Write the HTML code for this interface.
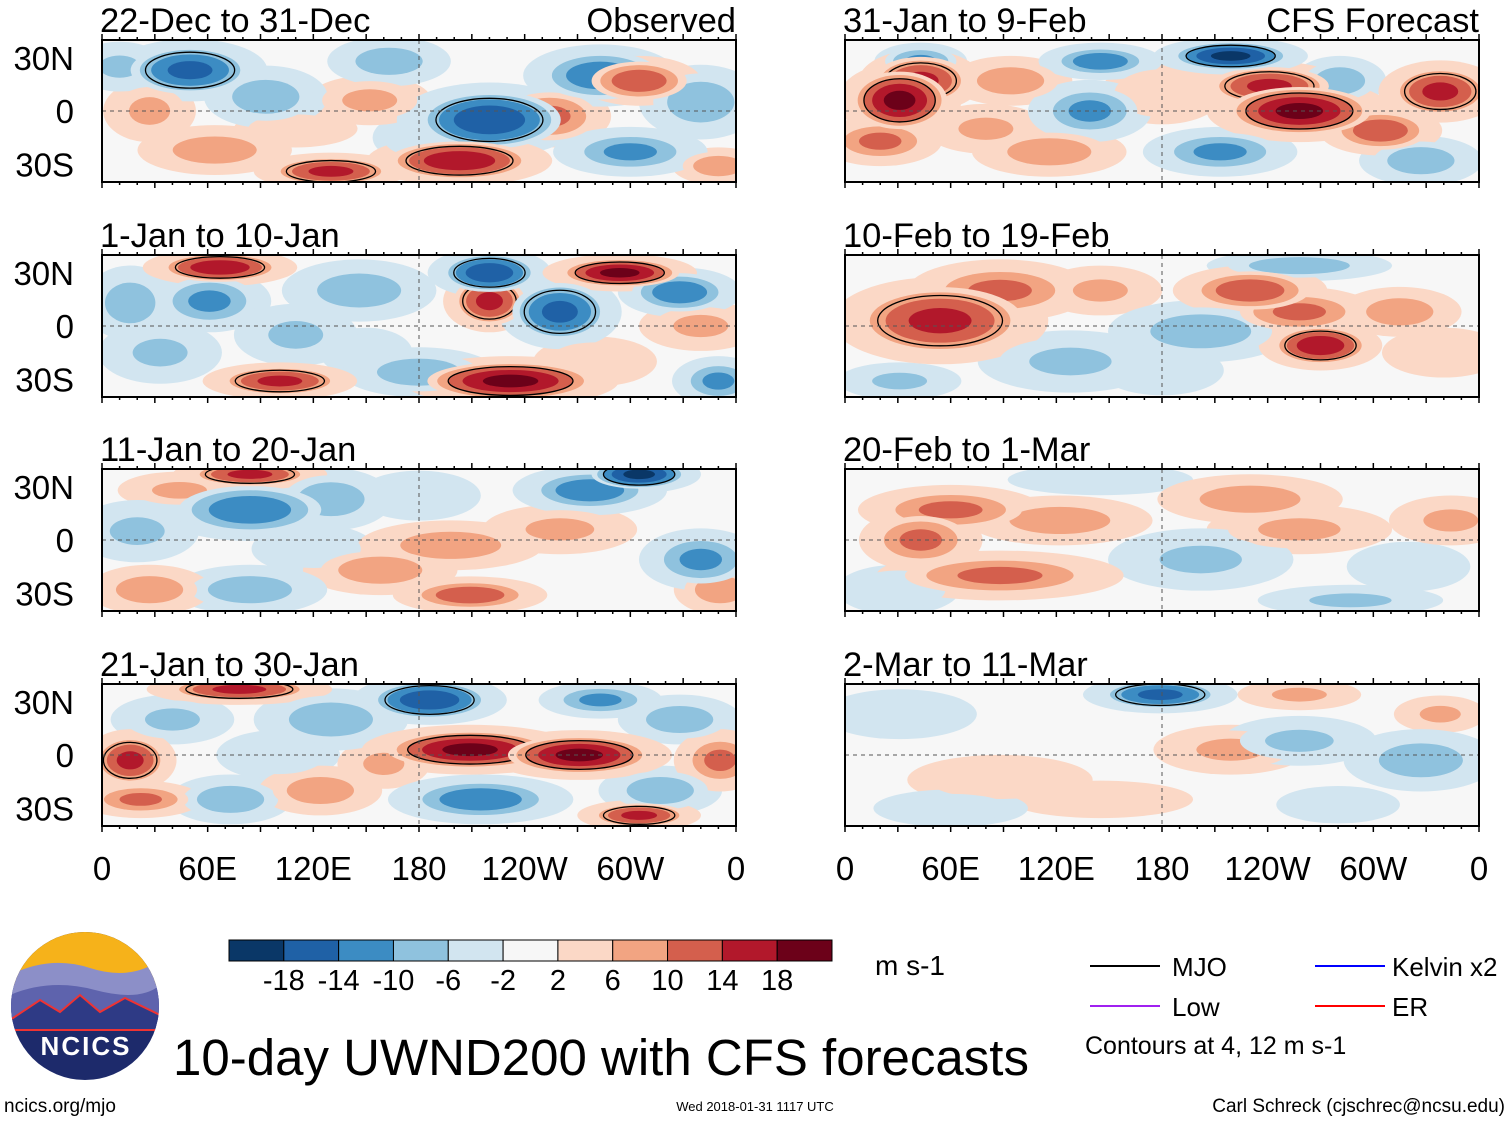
<!DOCTYPE html>
<html><head><meta charset="utf-8"><style>
html,body{margin:0;padding:0;background:#fff;}
svg{display:block;font-family:"Liberation Sans",sans-serif;}
</style></head><body>
<svg id="chart" width="1510" height="1121" viewBox="0 0 1510 1121" xmlns="http://www.w3.org/2000/svg">
<g id="panels"></g>
<g id="bottom">
  <g>
    <defs><clipPath id="logoclip"><circle cx="85" cy="1006" r="74"/></clipPath></defs>
    <circle cx="85" cy="1006" r="74" fill="#1d2a6b"/>
    <g clip-path="url(#logoclip)">
      <rect x="10" y="930" width="150" height="55" fill="#f6b21a"/>
      <path d="M10 975 Q50 955 90 968 T160 960 L160 1000 L10 1000Z" fill="#8c8fc8"/>
      <path d="M10 995 Q50 978 95 990 T160 985 L160 1020 L10 1020Z" fill="#5e63ad"/>
      <path d="M10 1020 L40 1000 L60 1012 L80 995 L100 1012 L125 998 L160 1015 L160 1030 L10 1030Z" fill="#2e3a85" stroke="#e33" stroke-width="2"/>
    </g>
    <text x="86" y="1055" font-size="26" font-weight="bold" fill="#fff" text-anchor="middle" letter-spacing="2">NCICS</text>
  </g>
  <text x="173" y="1075" font-size="51" fill="#000">10-day UWND200 with CFS forecasts</text>
  <g id="colorbar"></g>
  <text x="875" y="975" font-size="28">m s-1</text>
  <g>
    <line x1="1090" y1="966" x2="1160" y2="966" stroke="#000" stroke-width="2"/>
    <text x="1172" y="976" font-size="26">MJO</text>
    <line x1="1090" y1="1006" x2="1160" y2="1006" stroke="#a020f0" stroke-width="2"/>
    <text x="1172" y="1016" font-size="26">Low</text>
    <line x1="1315" y1="966" x2="1385" y2="966" stroke="#0000ff" stroke-width="2"/>
    <text x="1392" y="976" font-size="26">Kelvin x2</text>
    <line x1="1315" y1="1006" x2="1385" y2="1006" stroke="#ff0000" stroke-width="2"/>
    <text x="1392" y="1016" font-size="26">ER</text>
    <text x="1085" y="1054" font-size="25">Contours at 4, 12 m s-1</text>
  </g>
  <text x="4" y="1112" font-size="19">ncics.org/mjo</text>
  <text x="755" y="1111" font-size="13" text-anchor="middle">Wed 2018-01-31 1117 UTC</text>
  <text x="1505" y="1112" font-size="19" text-anchor="end">Carl Schreck (cjschrec@ncsu.edu)</text>
</g>
</svg>
<script>
const colors = ['#0a3767','#1f61a6','#3c8cc3','#8fc2de','#d2e5f0','#f7f7f7','#fbd8c6','#f2a482','#d45f4d','#b2182b','#6c0119'];
const cbLabels = ['-18','-14','-10','-6','-2','2','6','10','14','18'];
const panelTitles = ['22-Dec to 31-Dec','1-Jan to 10-Jan','11-Jan to 20-Jan','21-Jan to 30-Jan','31-Jan to 9-Feb','10-Feb to 19-Feb','20-Feb to 1-Mar','2-Mar to 11-Mar'];
const xTickLabels = ['0','60E','120E','180','120W','60W','0'];
const xTickLons = [0,60,120,180,240,300,360];
const yTickLabels = ['30N','0','30S'];
const yTickLats = [30,0,-30];
// blobs: [lon, lat, value, spreadLonDeg, spreadLatDeg]
const blobs0 = [[50,23,-14,25,10],[93,8,-8,20,10],[64,-22,8,25,8],[130,-34,14,25,6],[220,-5,-16,30,12],[203,-28,16,30,8],[283,20,-12,25,10],[254,-3,10,20,10],[305,17,12,20,8],[340,5,-8,20,12],[163,28,-8,20,8],[152,6,6,20,8],[300,-23,-10,25,8],[27,0,6,15,10],[350,-31,8,15,6],[10,25,-6,15,8],[180,-15,-4,15,8],[110,-10,4,20,6]];
const blobs1 = [[67,33,16,25,6],[16,13,-8,15,12],[33,-15,-6,20,10],[61,14,-10,20,10],[146,20,-8,25,10],[101,-31,14,25,6],[220,30,-16,20,8],[220,14,14,15,10],[260,8,-14,20,12],[232,-31,18,35,8],[180,-26,-8,25,8],[294,30,18,25,6],[328,19,-12,20,8],[350,-31,-10,15,8],[340,0,6,20,8],[110,-5,-6,20,10],[150,-15,-4,15,8],[280,-20,4,20,8]];
const blobs2 = [[84,37,14,25,5],[84,17,-12,30,10],[130,23,-8,20,10],[44,28,6,20,6],[198,-3,8,30,8],[277,28,-12,25,8],[305,37,-18,20,6],[158,-17,8,25,8],[84,-28,-8,25,8],[209,-31,12,25,6],[340,-11,-10,20,10],[351,-28,8,15,8],[27,-28,8,20,8],[260,6,6,25,8],[20,5,-6,20,10],[180,25,-4,20,8],[120,-5,-4,20,8]];
const blobs3 = [[78,37,14,30,5],[186,31,-16,25,8],[209,3,18,35,8],[271,0,18,30,8],[130,20,-8,25,10],[283,31,-10,20,6],[16,-3,14,15,10],[22,-25,10,20,6],[73,-25,-8,20,8],[124,-20,8,20,8],[215,-25,-12,30,8],[305,-34,14,20,5],[351,-3,10,15,10],[328,20,-8,20,8],[317,-20,-8,20,8],[40,20,-6,20,8],[100,0,-4,20,8],[160,-5,6,15,8]];
const blobs4 = [[31,6,18,20,12],[43,17,14,20,10],[43,28,-10,15,6],[20,-17,10,20,8],[94,17,8,20,8],[139,0,-10,20,10],[258,0,18,30,10],[241,14,14,25,8],[219,31,-18,25,6],[145,28,-12,20,6],[304,-11,12,20,8],[338,11,14,20,10],[281,17,-8,15,8],[213,-23,-10,25,8],[116,-23,8,25,8],[327,-28,-8,20,8],[180,10,4,20,10],[80,-10,6,20,8]];
const blobs5 = [[54,3,14,35,14],[88,20,10,30,10],[258,8,10,25,8],[230,20,12,25,8],[270,-11,16,20,8],[202,-3,-8,30,10],[258,34,-8,30,5],[128,-20,-6,30,10],[145,20,6,20,8],[315,8,8,20,8],[31,-31,-6,20,6],[180,-25,-4,20,8],[340,-15,4,20,8]];
const blobs6 = [[60,17,10,30,8],[43,0,10,20,10],[122,11,8,30,8],[88,-20,10,40,8],[230,23,8,30,8],[258,6,6,30,8],[202,-11,-6,30,10],[287,-34,-6,30,5],[145,34,-4,30,5],[344,11,6,20,8],[30,-28,-4,20,8],[320,-15,-4,20,8]];
const blobs7 = [[179,34,-14,25,6],[219,3,6,25,8],[258,8,-6,25,8],[327,-3,-8,25,10],[338,23,6,15,6],[88,-14,4,30,8],[145,-25,4,30,6],[31,23,-4,25,8],[258,34,6,20,5],[60,-30,-4,25,6],[280,-28,-4,20,6]];
const allBlobs = [blobs0,blobs1,blobs2,blobs3,blobs4,blobs5,blobs6,blobs7];

const NS='http://www.w3.org/2000/svg';
const SIZE=1.35;
function mk(tag, attrs, parent){const e=document.createElementNS(NS,tag);for(const k in attrs)e.setAttribute(k,attrs[k]);parent.appendChild(e);return e;}
const PW=634, PH=142, colX=[102,845], rowY=[40,255,469,684];
function colorIndexForLevel(L){return L>0?6+(L-2)/4:4-(-L-2)/4;}
const panelsG=document.getElementById('panels');
allBlobs.forEach((blobs,p)=>{
  const col=p<4?0:1,row=p%4,x0=colX[col],y0=rowY[row];
  const xs=lon=>x0+lon/360*PW;
  const ys=lat=>y0+PH/2-lat*(PH/80);
  const g=mk('g',{},panelsG);
  
  
  const cp=mk('clipPath',{id:'clip'+p},g);
  mk('rect',{x:x0,y:y0,width:PW,height:PH},cp);
  mk('rect',{x:x0,y:y0,width:PW,height:PH,fill:colors[5]},g);
  const fg=mk('g',{'clip-path':'url(#clip'+p+')'},g);
  const sorted=blobs.slice().sort((a,b)=>Math.abs(a[2])-Math.abs(b[2]));
  sorted.forEach(b=>{
    const e=mk('ellipse',{cx:xs(b[0]),cy:ys(b[1]),rx:b[3]*SIZE*1.3*PW/360,ry:b[4]*SIZE*1.3*PH/80,fill:b[2]>0?colors[6]:colors[4]},fg);
    
    
  });
  sorted.forEach(b=>{
    const v=b[2],av=Math.abs(v);
    for(let L=2;L<=av;L+=4){
      const s=Math.sqrt((av+2-L)/av);
      const e=mk('ellipse',{cx:xs(b[0]),cy:ys(b[1]),rx:b[3]*SIZE*s*PW/360,ry:b[4]*SIZE*s*PH/80,fill:colors[colorIndexForLevel(v>0?L:-L)]},fg);
      
      
    }
    if(av>=14){
      const c=mk('ellipse',{cx:xs(b[0]),cy:ys(b[1]),rx:b[3]*SIZE*0.75*PW/360,ry:b[4]*SIZE*0.75*PH/80,fill:'none',stroke:'#000','stroke-width':1.3},fg);
      
      
    }
  });
  mk('line',{x1:x0,y1:ys(0),x2:x0+PW,y2:ys(0),stroke:'#555','stroke-width':1,'stroke-dasharray':'4,4'},g);
  mk('line',{x1:xs(180),y1:y0,x2:xs(180),y2:y0+PH,stroke:'#555','stroke-width':1,'stroke-dasharray':'4,4'},g);
  const fr=mk('rect',{x:x0,y:y0,width:PW,height:PH,fill:'none',stroke:'#000','stroke-width':2},g);
  
  
  for(let lon=0;lon<=360;lon+=10){
    const len=lon%30===0?6:3;
    mk('line',{x1:xs(lon),y1:y0,x2:xs(lon),y2:y0-len,stroke:'#000','stroke-width':1.5},g);
    mk('line',{x1:xs(lon),y1:y0+PH,x2:xs(lon),y2:y0+PH+len,stroke:'#000','stroke-width':1.5},g);
  }
  const t=mk('text',{x:x0-2,y:y0-8,'font-size':34.5},g);t.textContent=panelTitles[p];
  
  
  if(p===0||p===4){
    const r=mk('text',{x:x0+PW,y:y0-8,'font-size':34.5,'text-anchor':'end'},g);r.textContent=p===0?'Observed':'CFS Forecast';
    
    
  }
  if(col===0){
    yTickLats.forEach((lat,i)=>{
      const yt=mk('text',{x:74,y:ys(lat)+12,'font-size':33,'text-anchor':'end'},g);yt.textContent=yTickLabels[i];
      
      
    });
  }
  if(row===3){
    xTickLons.forEach((lon,i)=>{
      const xt=mk('text',{x:xs(lon),y:880,'font-size':33,'text-anchor':'middle'},g);xt.textContent=xTickLabels[i];
      
      
    });
  }
});
const cb=document.getElementById('colorbar');
const cbX=229,cbW=603/11;
colors.forEach((c,i)=>{
  const r=mk('rect',{x:cbX+i*cbW,y:940,width:cbW,height:21,fill:c,stroke:'#000','stroke-width':1},cb);
  
  
});
cbLabels.forEach((l,i)=>{
  const t=mk('text',{x:cbX+(i+1)*cbW,y:990,'font-size':29,'text-anchor':'middle'},cb);t.textContent=l;
  
  
});
</script>
</body></html>
